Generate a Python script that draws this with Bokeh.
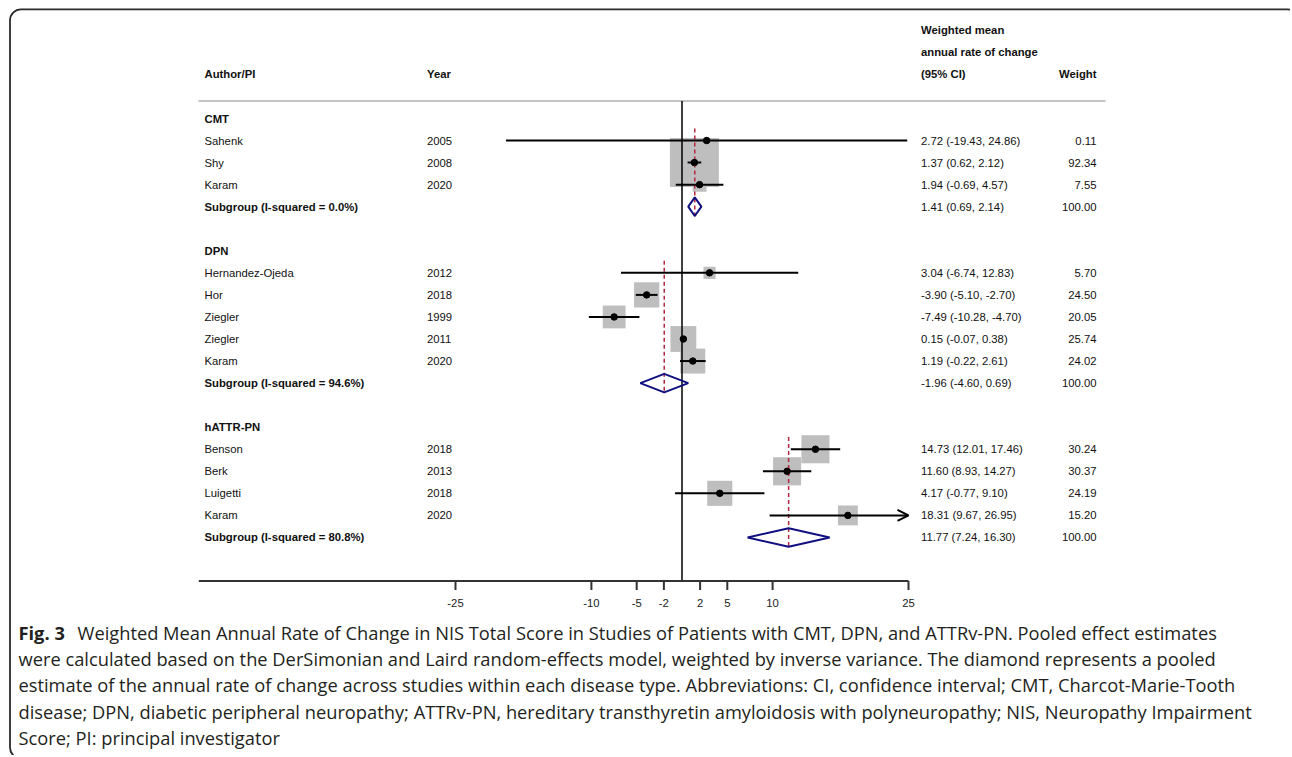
import math
from bokeh.plotting import figure
from bokeh.models import Range1d, BoxAnnotation, Arrow, OpenHead
from bokeh.core.properties import value
from bokeh.embed import file_html
from bokeh.resources import INLINE

# ---------------- data ----------------
group_names = ["CMT", "DPN", "hATTR-PN"]
group_i2 = ["0.0%", "94.6%", "80.8%"]

cmt_authors = ["Sahenk", "Shy", "Karam"]
cmt_years = ["2005", "2008", "2020"]
cmt_est = [2.72, 1.37, 1.94]
cmt_lo = [-19.43, 0.62, -0.69]
cmt_hi = [24.86, 2.12, 4.57]
cmt_wt = [0.11, 92.34, 7.55]

dpn_authors = ["Hernandez-Ojeda", "Hor", "Ziegler", "Ziegler", "Karam"]
dpn_years = ["2012", "2018", "1999", "2011", "2020"]
dpn_est = [3.04, -3.90, -7.49, 0.15, 1.19]
dpn_lo = [-6.74, -5.10, -10.28, -0.07, -0.22]
dpn_hi = [12.83, -2.70, -4.70, 0.38, 2.61]
dpn_wt = [5.70, 24.50, 20.05, 25.74, 24.02]

attr_authors = ["Benson", "Berk", "Luigetti", "Karam"]
attr_years = ["2018", "2013", "2018", "2020"]
attr_est = [14.73, 11.60, 4.17, 18.31]
attr_lo = [12.01, 8.93, -0.77, 9.67]
attr_hi = [17.46, 14.27, 9.10, 26.95]
attr_wt = [30.24, 30.37, 24.19, 15.20]

sub_est = [1.41, -1.96, 11.77]
sub_lo = [0.69, -4.60, 7.24]
sub_hi = [2.14, 0.69, 16.30]
sub_wt = [100.00, 100.00, 100.00]

tick_values = [-25, -10, -5, -2, 2, 5, 10, 25]
tick_labels = ["-25", "-10", "-5", "-2", "2", "5", "10", "25"]
axis_max = 25

header_author = "Author/PI"
header_year = "Year"
header_est = ["Weighted mean", "annual rate of change", "(95% CI)"]
header_weight = "Weight"

fig_label = "Fig. 3"
caption_lines = [
    "Weighted Mean Annual Rate of Change in NIS Total Score in Studies of Patients with CMT, DPN, and ATTRv-PN. Pooled effect estimates",
    "were calculated based on the DerSimonian and Laird random-effects model, weighted by inverse variance. The diamond represents a pooled",
    "estimate of the annual rate of change across studies within each disease type. Abbreviations: CI, confidence interval; CMT, Charcot-Marie-Tooth",
    "disease; DPN, diabetic peripheral neuropathy; ATTRv-PN, hereditary transthyretin amyloidosis with polyneuropathy; NIS, Neuropathy Impairment",
    "Score; PI: principal investigator",
]

studies = [
    (cmt_authors, cmt_years, cmt_est, cmt_lo, cmt_hi, cmt_wt),
    (dpn_authors, dpn_years, dpn_est, dpn_lo, dpn_hi, dpn_wt),
    (attr_authors, attr_years, attr_est, attr_lo, attr_hi, attr_wt),
]

# ---------------- layout ----------------
W, H = 1290, 755
OFFSET = 0
PX_PER_UNIT = 9.06
ZERO_PX = 681.5
ROW_PX = 22.05
ROW0_PX = 118.0


def xd(px):
    return (px - ZERO_PX) / PX_PER_UNIT


def yd(py):
    return (py - ROW0_PX) / ROW_PX


p = figure(width=W, height=H, output_backend="svg", toolbar_location=None,
           x_axis_type=None, y_axis_type=None,
           x_range=Range1d(xd(OFFSET), xd(OFFSET + W)),
           y_range=Range1d(yd(OFFSET + H), yd(OFFSET)),
           min_border=0, min_border_left=0, min_border_right=0,
           min_border_top=0, min_border_bottom=0)
p.outline_line_color = None
p.grid.visible = False
p.background_fill_color = "white"

FONT = value("Liberation Sans")
FS = "11.3px"

col_author = xd(204)
col_year = xd(426.5)
col_est = xd(920.5)
col_weight = xd(1096)

bold_x, bold_y, bold_t = [], [], []
norm_x, norm_y, norm_t = [], [], []
wt_x, wt_y, wt_t = [], [], []

sq_x, sq_y, sq_s = [], [], []
ci_x0, ci_x1, ci_y = [], [], []
arrows = []
dot_x, dot_y = [], []
dia_xs, dia_ys = [], []
ref_x, ref_y0, ref_y1 = [], [], []

row = 0
for gi, (auth, yrs, est, lo, hi, wt) in enumerate(studies):
    bold_x.append(col_author); bold_y.append(row); bold_t.append(group_names[gi])
    row += 1
    first = row
    for a, yv, e, l, h, w in zip(auth, yrs, est, lo, hi, wt):
        norm_x += [col_author, col_year, col_est]
        norm_y += [row, row, row]
        norm_t += [a, yv, f"{e:.2f} ({l:.2f}, {h:.2f})"]
        wt_x.append(col_weight); wt_y.append(row); wt_t.append(f"{w:.2f}")
        sq_x.append(e); sq_y.append(row); sq_s.append(5.1 * math.sqrt(w))
        if h > axis_max:
            arrows.append((l, axis_max, row))
        else:
            ci_x0.append(l); ci_x1.append(h); ci_y.append(row)
        dot_x.append(e); dot_y.append(row)
        row += 1
    e, l, h = sub_est[gi], sub_lo[gi], sub_hi[gi]
    bold_x.append(col_author); bold_y.append(row)
    bold_t.append(f"Subgroup (I-squared = {group_i2[gi]})")
    norm_x.append(col_est); norm_y.append(row); norm_t.append(f"{e:.2f} ({l:.2f}, {h:.2f})")
    wt_x.append(col_weight); wt_y.append(row); wt_t.append(f"{sub_wt[gi]:.2f}")
    dh = 0.42
    dia_xs.append([l, e, h, e]); dia_ys.append([row, row - dh, row, row + dh])
    ref_x.append(e); ref_y0.append(first - 0.55); ref_y1.append(row + 0.45)
    row += 2

axis_row = yd(580.5)
sep_row = yd(100.5)

# border (open to the right and bottom, as in the cropped figure panel)
p.add_layout(BoxAnnotation(left=xd(9.5), right=xd(1298), top=yd(8.8), bottom=yd(758),
                           fill_color=None, fill_alpha=0, line_color="#2b2b2b",
                           line_alpha=1.0, line_width=1.8, border_radius=11))

# header separator
p.segment(x0=[xd(198)], y0=[sep_row], x1=[xd(1105)], y1=[sep_row],
          line_color="#c4c4c4", line_width=2)

# squares
p.scatter(x=sq_x, y=sq_y, size=sq_s, marker="square", fill_color="#bebebe",
          line_color=None)

# null line
p.segment(x0=[0], y0=[sep_row], x1=[0], y1=[axis_row], line_color="black", line_width=1.5)

# pooled reference lines
p.segment(x0=ref_x, y0=ref_y0, x1=ref_x, y1=ref_y1, line_color="#b5283f",
          line_width=1.5, line_dash="4 3")

# CIs
p.segment(x0=ci_x0, y0=ci_y, x1=ci_x1, y1=ci_y, line_color="black", line_width=2)
for l, h, r in arrows:
    p.add_layout(Arrow(x_start=l, y_start=r, x_end=h, y_end=r, line_color="black",
                       line_width=2,
                       end=OpenHead(size=11, line_width=2, line_color="black")))

# point estimates
p.scatter(x=dot_x, y=dot_y, size=6.5, marker="circle", fill_color="black", line_color="black")

# diamonds
p.patches(xs=dia_xs, ys=dia_ys, fill_color=None, line_color="#101080", line_width=2)

# axis
p.segment(x0=[xd(198.3)], y0=[axis_row], x1=[axis_max], y1=[axis_row],
          line_color="#333333", line_width=2)
tick_len = 9 / ROW_PX
p.segment(x0=tick_values, y0=[axis_row] * len(tick_values), x1=tick_values,
          y1=[axis_row + tick_len] * len(tick_values), line_color="#333333", line_width=2)
p.text(x=tick_values, y=[yd(602)] * len(tick_values), text=tick_labels, text_font=FONT,
       text_font_size=FS, text_align="center", text_baseline="middle", text_color="#222222")

# texts
p.text(x=bold_x, y=bold_y, text=bold_t, text_font=FONT, text_font_size=FS,
       text_font_style="bold", text_baseline="middle", text_color="#111111")
p.text(x=norm_x, y=norm_y, text=norm_t, text_font=FONT, text_font_size=FS,
       text_baseline="middle", text_color="#111111")
p.text(x=wt_x, y=wt_y, text=wt_t, text_font=FONT, text_font_size=FS,
       text_align="right", text_baseline="middle", text_color="#111111")

# headers
p.text(x=[col_author, col_year] + [col_est] * 3,
       y=[-2, -2, -4, -3, -2],
       text=[header_author, header_year] + header_est,
       text_font=FONT, text_font_size=FS, text_font_style="bold",
       text_baseline="middle", text_color="#111111")
p.text(x=[col_weight], y=[-2], text=[header_weight], text_font=FONT, text_font_size=FS,
       text_font_style="bold", text_align="right", text_baseline="middle",
       text_color="#111111")

# caption
CFONT = value("Open Sans")
CFS = "18.3px"
cap_y = [yd(632 + 26.2 * i) for i in range(len(caption_lines))]
p.text(x=[xd(18)], y=[cap_y[0]], text=[fig_label], text_font=CFONT, text_font_size=CFS,
       text_font_style="bold", text_baseline="middle", text_color="#231f20")
cap_x = [xd(77)] + [xd(18)] * (len(caption_lines) - 1)
p.text(x=cap_x, y=cap_y, text=caption_lines, text_font=CFONT, text_font_size=CFS,
       text_baseline="middle", text_color="#231f20")

open("out.html", "w").write(file_html(p, INLINE))
